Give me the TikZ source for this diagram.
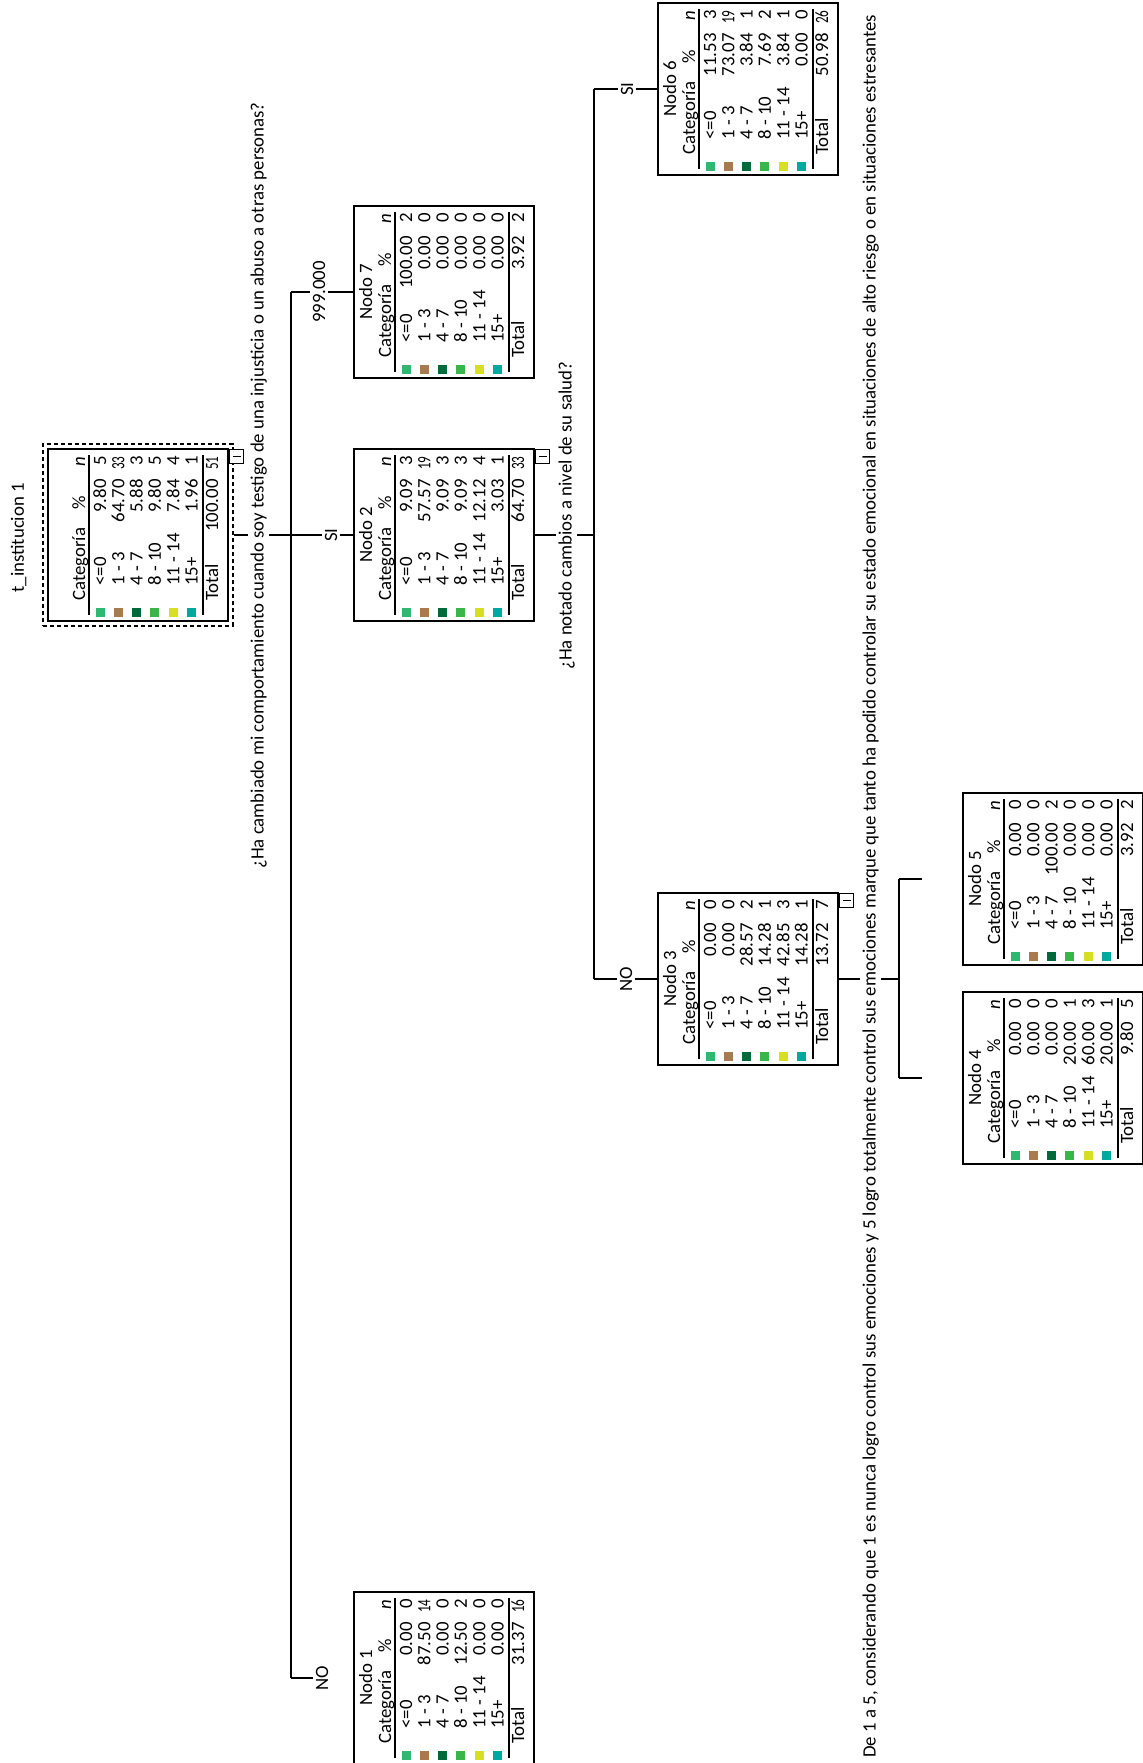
\documentclass[tikz,border=0pt]{standalone}
\usepackage{fontspec}
\setmainfont{Carlito}
\usetikzlibrary{calc,fit}
\definecolor{catA}{HTML}{2EB872}
\definecolor{catB}{HTML}{A87B4F}
\definecolor{catC}{HTML}{006B3A}
\definecolor{catD}{HTML}{3AB54A}
\definecolor{catE}{HTML}{D7DF23}
\definecolor{catF}{HTML}{00A99D}
\tikzset{
  txt/.style={rotate=90,inner sep=0pt,font=\fontsize{9.4}{11}\selectfont},
  % cajas de nodo
  nodebox/.style={draw,line width=0.8pt,minimum width=90pt,minimum height=86pt,inner sep=0pt},
  selbox/.style={draw,line width=0.9pt,dash pattern=on 2pt off 1.5pt,inner sep=2pt},
  sepline/.style={line width=0.8pt},
  % conectores y etiquetas
  conn/.style={line width=0.6pt},
  blabel/.style={txt,inner sep=1pt,anchor=base},
  question/.style={txt,inner sep=1pt,anchor=base west},
}
%% columna n: los valores de dos cifras van comprimidos
\newcommand{\ncol}[1]{\ifnum#1>9 \scalebox{0.7}[1]{#1}\else #1\fi}
%% nodo del arbol: nombre, L, T, titulo, filas pct/n, total pct, total n
\newcommand{\arbolnodo}[7]{%
  \begin{scope}[shift={(#2,#3)}]
    \node[nodebox] (#1) at (90,86) {};
    \node[txt,anchor=base] at (18,86) {#4};
    \node[txt,anchor=base west] at (37,152) {Categoría};
    \node[txt,anchor=base east] at (37,47) {\%};
    \node[txt,anchor=base east] at (37,7) {\textit{n}};
    \draw[sepline] (41,6) -- (41,166);
    \foreach \lab/\col [count=\i] in {<=0/catA,1 - 3/catB,4 - 7/catC,8 - 10/catD,11 - 14/catE,15+/catF}{
      \pgfmathsetmacro\bx{58+18.33*(\i-1)}
      \node[txt,anchor=base west] at (\bx,137) {\lab};
      \fill[\col] ({\bx-10.5},159) rectangle ++(9,9);
    }
    \foreach \p/\nn [count=\i] in {#5}{
      \pgfmathsetmacro\bx{58+18.33*(\i-1)}
      \node[txt,anchor=base east] at (\bx,30) {\p};
      \node[txt,anchor=base east] at (\bx,7) {\ncol{\nn}};
    }
    \draw[sepline] (155,6) -- (155,166);
    \node[txt,anchor=base west] at (170,152) {Total};
    \node[txt,anchor=base east] at (170,30) {#6};
    \node[txt,anchor=base east] at (170,7) {\ncol{#7}};
  \end{scope}}
%% caja de colapso
\newcommand{\colapso}[1]{%
  \draw[line width=0.6pt,fill=white] ($(#1.north east)+(1,1)$) rectangle ++(14,14);
  \draw[line width=0.7pt] ($(#1.north east)+(4,8)$) -- ++(8,0);}

\begin{document}
\begin{tikzpicture}[x=0.5pt,y=-0.5pt]
\useasboundingbox (0,0) rectangle (1142,1763);

%% titulo
\node[txt,anchor=base west] (titulo) at (24,593) {t\_institucion 1};

%% nodos
\arbolnodo{n0}{48}{449}{}{9.80/5,64.70/33,5.88/3,9.80/5,7.84/4,1.96/1}{100.00}{51}
\node[selbox,fit=(n0)] (n0sel) {};
\arbolnodo{n7}{354}{206}{Nodo 7}{100.00/2,0.00/0,0.00/0,0.00/0,0.00/0,0.00/0}{3.92}{2}
\arbolnodo{n2}{354}{449}{Nodo 2}{9.09/3,57.57/19,9.09/3,9.09/3,12.12/4,3.03/1}{64.70}{33}
\arbolnodo{n1}{354}{1592}{Nodo 1}{0.00/0,87.50/14,0.00/0,12.50/2,0.00/0,0.00/0}{31.37}{16}
\arbolnodo{n6}{658}{3}{Nodo 6}{11.53/3,73.07/19,3.84/1,7.69/2,3.84/1,0.00/0}{50.98}{26}
\arbolnodo{n3}{658}{893}{Nodo 3}{0.00/0,0.00/0,28.57/2,14.28/1,42.85/3,14.28/1}{13.72}{7}
\arbolnodo{n5}{963}{793}{Nodo 5}{0.00/0,0.00/0,100.00/2,0.00/0,0.00/0,0.00/0}{3.92}{2}
\arbolnodo{n4}{963}{992}{Nodo 4}{0.00/0,0.00/0,0.00/0,20.00/1,60.00/3,20.00/1}{9.80}{5}
\colapso{n0}
\colapso{n2}
\colapso{n3}

%% preguntas de division
\node[question] (q1) at (263.5,871) {¿Ha cambiado mi comportamiento cuando soy testigo de una injusticia o un abuso a otras personas?};
\node[question] (q2) at (571.5,672) {¿Ha notado cambios a nivel de su salud?};
\node[question] (q3) at (875.5,1760) {De 1 a 5, considerando que 1 es nunca logro control sus emociones y 5 logro totalmente control sus emociones marque que tanto ha podido controlar su estado emocional en situaciones de alto riesgo o en situaciones estresantes};

%% etiquetas de rama
\node[blabel] (b7) at (325,292) {999.000};
\node[blabel] (b2) at (337,535) {SI};
\node[blabel] (b1) at (328,1678) {NO};
\node[blabel] (b6) at (633,89) {SI};
\node[blabel] (b3) at (632,979) {NO};

\coordinate (j1) at (291,535);
\coordinate (j2) at (594,535);
\coordinate (j3) at (899,979);
\coordinate (s5) at (922,879);
\coordinate (s4) at (922,1078);

%% nivel 1
\draw[conn] (n0sel.east) -- (n0sel.east -| q1.north);
\draw[conn] (n0sel.east -| q1.south) -- (j1);
\draw[conn] (j1 |- n7) -- (j1 |- n1);
\draw[conn] (j1 |- n7) -- (b7.north);
\draw[conn] (b7.south) -- (n7.west);
\draw[conn] (j1) -- (b2.north);
\draw[conn] (b2.south) -- (n2.west);
\draw[conn] (j1 |- n1) -- (b1.north);

%% nivel 2
\draw[conn] (n2.east) -- (n2.east -| q2.north);
\draw[conn] (n2.east -| q2.south) -- (j2);
\draw[conn] (j2 |- n6) -- (j2 |- n3);
\draw[conn] (j2 |- n6) -- (b6.north);
\draw[conn] (b6.south) -- (n6.west);
\draw[conn] (j2 |- n3) -- (b3.north);
\draw[conn] (b3.south) -- (n3.west);

%% nivel 3
\draw[conn] (n3.east) -- (n3.east -| q3.north);
\draw[conn] (n3.east -| q3.south) -- (j3);
\draw[conn] (j3 |- n5) -- (j3 |- n4);
\draw[conn] (j3 |- n5) -- (s5);
\draw[conn] (j3 |- n4) -- (s4);
\end{tikzpicture}
\end{document}
